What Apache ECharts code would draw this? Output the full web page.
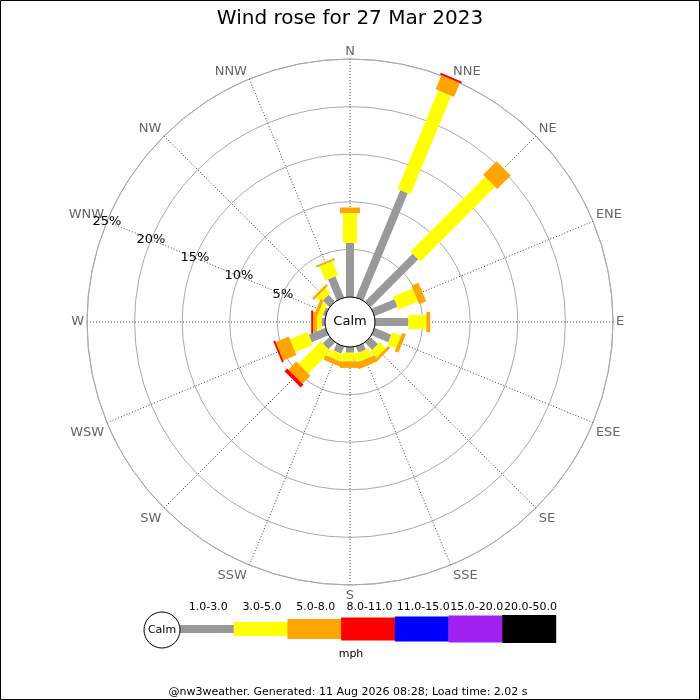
<!DOCTYPE html>
<html>
<head>
<meta charset="utf-8">
<script src="https://cdn.jsdelivr.net/npm/echarts@6/dist/echarts.min.js"></script>
<style>
html,body{margin:0;padding:0;background:#fff;}
#c{width:700px;height:700px;}
</style>
</head>
<body>
<div id="c"></div>
<script>
// ---------- data ----------
const directions = ['N','NNE','NE','ENE','E','ESE','SE','SSE','S','SSW','SW','WSW','W','WNW','NW','NNW'];
const speedBins = ['1.0-3.0','3.0-5.0','5.0-8.0','8.0-11.0','11.0-15.0','15.0-20.0','20.0-50.0'];
const binColors = ['#999999','#ffff00','#ffa500','#ff0000','#0000ff','#a020f0','#000000'];
// percent of time per direction for each speed bin (mph)
const speed1to3   = [5.7, 12.2, 7.1, 2.6, 3.5, 1.9, 1.1, 0.7, 0.6, 0.8, 1.0, 1.9, 0.35, 0.3, 1.0, 2.4];
const speed3to5   = [3.1, 11.2, 11.1, 2.2, 1.9, 1.0, 0.9, 0.9, 0.9, 0.8, 3.3, 2.0, 0.5, 0.5, 0.7, 1.6];
const speed5to8   = [0.6, 1.6, 2.0, 0.8, 0.4, 0.4, 0.3, 0.7, 0.7, 0.5, 1.2, 1.5, 0.4, 0.35, 0.25, 0.2];
const speed8to11  = [0, 0.2, 0, 0, 0, 0, 0, 0, 0, 0, 0.4, 0.2, 0.2, 0, 0, 0];
const speed11to15 = [0, 0, 0, 0, 0, 0, 0, 0, 0, 0, 0, 0, 0, 0, 0, 0];
const speed15to20 = [0, 0, 0, 0, 0, 0, 0, 0, 0, 0, 0, 0, 0, 0, 0, 0];
const speed20to50 = [0, 0, 0, 0, 0, 0, 0, 0, 0, 0, 0, 0, 0, 0, 0, 0];
const radiusMax = 25;
const radiusStep = 5;
const titleText = 'Wind rose for 27 Mar 2023';
const unitText = 'mph';
const calmText = 'Calm';
const footerText = '@nw3weather. Generated: 11 Aug 2026 08:28; Load time: 2.02 s';

// ---------- layout / style ----------
const FONT = 'DejaVu Sans';
const CX = 350, CY = 322, R0 = 25, R1 = 263;
const barWidths = [8, 14, 20, 23, 25, 27, 28];
const binValues = [speed1to3, speed3to5, speed5to8, speed8to11, speed11to15, speed15to20, speed20to50];
const step = 360 / directions.length;

const series = binValues.map(function (vals, k) {
  const data = vals.map(function (v, i) {
    let start = 0;
    for (let j = 0; j < k; j++) start += binValues[j][i];
    return [start, i * step, start + v];
  });
  const w = barWidths[k];
  return {
    type: 'custom',
    name: speedBins[k],
    coordinateSystem: 'polar',
    polarIndex: 0,
    z: 2 + k,
    silent: true,
    data: data,
    encode: { radius: [0, 2], angle: 1 },
    renderItem: function (params, api) {
      const s = api.value(0), a = api.value(1), e = api.value(2);
      if (!(e > s)) return null;
      const p0 = api.coord([s, a]);
      const p1 = api.coord([e, a]);
      const dx = p1[0] - p0[0], dy = p1[1] - p0[1];
      const L = Math.hypot(dx, dy) || 1;
      const nx = -dy / L * w / 2, ny = dx / L * w / 2;
      return {
        type: 'polygon',
        shape: { points: [
          [p0[0] + nx, p0[1] + ny], [p1[0] + nx, p1[1] + ny],
          [p1[0] - nx, p1[1] - ny], [p0[0] - nx, p0[1] - ny]
        ] },
        style: { fill: binColors[k], stroke: null }
      };
    }
  };
});

// legend graphics built from bins
const legendX0 = 180, segW = 53.7, legendCY = 629;
const graphic = [
  { type: 'rect', shape: { x: 0.5, y: 0.5, width: 699, height: 699 }, style: { fill: null, stroke: '#000', lineWidth: 1 }, z: 200, silent: true },
  { type: 'circle', shape: { cx: CX, cy: CY, r: R0 }, style: { fill: '#fff', stroke: '#000', lineWidth: 1 }, z: 100, silent: true },
  { type: 'text', x: CX, y: CY, style: { text: calmText, x: 0, y: 0, align: 'center', verticalAlign: 'middle', font: '13px "' + FONT + '"', fill: '#000' }, z: 101, silent: true },
  { type: 'circle', shape: { cx: 162, cy: 630, r: 18 }, style: { fill: '#fff', stroke: '#000', lineWidth: 1 }, z: 100, silent: true },
  { type: 'text', x: 162, y: 630, style: { text: calmText, align: 'center', verticalAlign: 'middle', font: '11px "' + FONT + '"', fill: '#000' }, z: 101, silent: true },
  { type: 'text', x: 351, y: 654, style: { text: unitText, align: 'center', verticalAlign: 'middle', font: '11px "' + FONT + '"', fill: '#000' }, z: 101, silent: true },
  { type: 'text', x: 348, y: 692, style: { text: footerText, align: 'center', verticalAlign: 'middle', font: '11px "' + FONT + '"', fill: '#000' }, z: 101, silent: true }
];
speedBins.forEach(function (label, k) {
  const x = legendX0 + k * segW;
  graphic.push({ type: 'rect', shape: { x: x, y: legendCY - barWidths[k] / 2, width: segW + 0.3, height: barWidths[k] }, style: { fill: binColors[k] }, z: 90 + k, silent: true });
  graphic.push({ type: 'text', x: x + segW / 2 + 1.5, y: 607, style: { text: label, align: 'center', verticalAlign: 'middle', font: '11px "' + FONT + '"', fill: '#000' }, z: 101, silent: true });
});

const chart = echarts.init(document.getElementById('c'), null, { renderer: 'canvas' });
chart.setOption({
  backgroundColor: '#fff',
  animation: false,
  title: {
    text: titleText, left: 'center', top: 4,
    textStyle: { fontSize: 20, fontWeight: 'normal', color: '#000', fontFamily: FONT }
  },
  polar: [
    { center: [CX, CY], radius: [R0, R1] },
    { center: [CX, CY], radius: [R0, R1] }
  ],
  angleAxis: [
    {
      polarIndex: 0, type: 'value', min: 0, max: 360, interval: step,
      startAngle: 90, clockwise: true,
      axisLine: { show: true, lineStyle: { color: '#aaaaaa', width: 1 } },
      axisTick: { show: false },
      axisLabel: {
        show: true, margin: 1, padding: [3, 2, 0, 2], color: '#666666', fontSize: 13, fontFamily: FONT,
        formatter: function (v) { return directions[Math.round(v / step) % directions.length]; }
      },
      splitLine: { show: true, lineStyle: { color: '#444444', width: 1, type: [1, 2] } }
    },
    {
      polarIndex: 1, type: 'value', min: 0, max: 360,
      startAngle: 157.5, clockwise: true,
      axisLine: { show: false }, axisTick: { show: false },
      axisLabel: { show: false }, splitLine: { show: false }
    }
  ],
  radiusAxis: [
    {
      polarIndex: 0, type: 'value', min: 0, max: radiusMax, interval: radiusStep,
      axisLine: { show: false }, axisTick: { show: false }, axisLabel: { show: false },
      splitLine: { show: true, lineStyle: { color: '#aaaaaa', width: 1 } }
    },
    {
      polarIndex: 1, type: 'value', min: 0, max: radiusMax, interval: radiusStep,
      axisLine: { show: false }, axisTick: { show: false }, splitLine: { show: false },
      z: 50,
      axisLabel: {
        show: true, margin: 0, align: 'center', verticalAlign: 'middle',
        color: '#000', fontSize: 13, fontFamily: FONT,
        formatter: function (v) { return v === 0 ? '' : v + '%'; }
      }
    }
  ],
  series: series,
  graphic: graphic
});
</script>
</body>
</html>
